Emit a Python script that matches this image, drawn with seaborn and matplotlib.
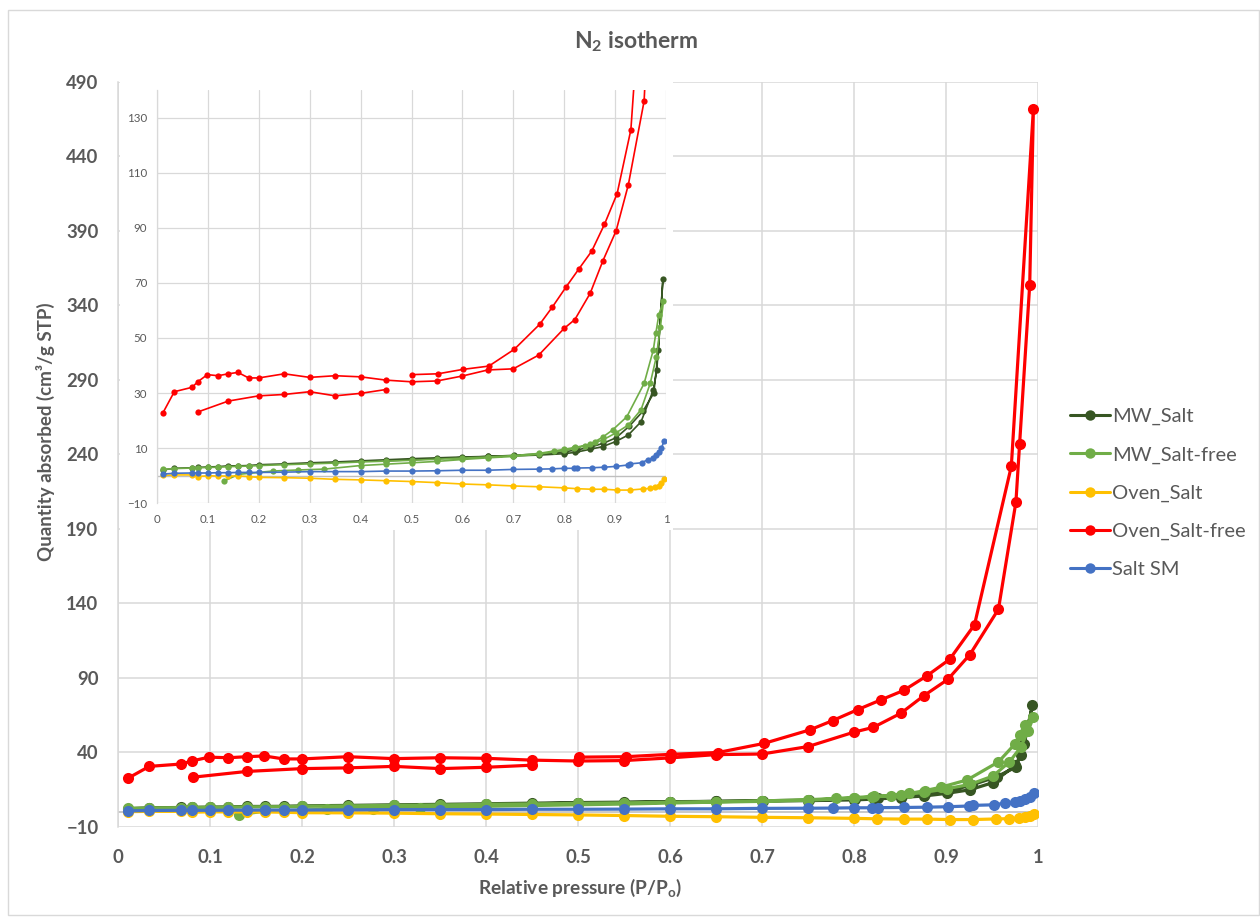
import numpy as np
import pandas as pd
import matplotlib
matplotlib.use("Agg")
import matplotlib.pyplot as plt
from matplotlib.lines import Line2D
from matplotlib.patches import Rectangle
from matplotlib.ticker import FuncFormatter
import seaborn as sns

# ---------------- data ----------------
samples = ["MW_Salt", "MW_Salt-free", "Oven_Salt", "Oven_Salt-free", "Salt SM"]
colors = ["#375623", "#70AD47", "#FFC000", "#FF0000", "#4472C4"]

mw_salt_ads_p = [0.011, 0.034, 0.069, 0.080, 0.100, 0.120, 0.140, 0.160, 0.180, 0.200, 0.250,
                 0.300, 0.350, 0.400, 0.450, 0.500, 0.550, 0.600, 0.650, 0.700, 0.750, 0.800,
                 0.822, 0.851, 0.876, 0.901, 0.926, 0.951, 0.975, 0.982, 0.994]
mw_salt_ads_q = [2.1, 2.7, 2.9, 3.0, 3.2, 3.3, 3.6, 3.6, 3.7, 4.0, 4.3, 4.7, 5.0, 5.4, 5.8, 6.2,
                 6.5, 6.8, 7.0, 7.2, 7.5, 8.0, 8.5, 9.6, 10.6, 12.4, 14.8, 19.6, 31.1, 38.4, 71.4]
mw_salt_des_p = [0.985, 0.976, 0.955, 0.928, 0.902, 0.877, 0.852, 0.826, 0.801, 0.751, 0.701,
                 0.650, 0.600, 0.550, 0.500, 0.450]
mw_salt_des_q = [45.6, 30.0, 23.5, 18.0, 13.8, 11.8, 10.4, 9.4, 8.7, 7.9, 7.4, 7.0, 6.6, 6.2,
                 5.8, 5.4]

mw_free_ads_p = [0.011, 0.034, 0.069, 0.080, 0.100, 0.120, 0.140, 0.160, 0.180, 0.200, 0.250,
                 0.300, 0.350, 0.400, 0.450, 0.500, 0.550, 0.600, 0.650, 0.700, 0.750, 0.780,
                 0.800, 0.822, 0.851, 0.876, 0.901, 0.926, 0.951, 0.969, 0.981, 0.989, 0.995]
mw_free_ads_q = [2.3, 2.6, 2.8, 2.9, 3.0, 3.1, 3.3, 3.4, 3.5, 3.7, 4.0, 4.3, 4.6, 5.0, 5.3, 5.6,
                 6.0, 6.4, 6.8, 7.3, 8.1, 9.0, 9.6, 10.3, 11.4, 13.0, 15.5, 18.4, 24.0, 33.5,
                 43.2, 54.0, 63.4]
mw_free_des_p = [0.986, 0.980, 0.975, 0.957, 0.923, 0.895, 0.877, 0.860, 0.840, 0.820, 0.800,
                 0.750, 0.700, 0.650, 0.600, 0.550, 0.500, 0.450, 0.400, 0.328, 0.277, 0.227,
                 0.160, 0.132]
mw_free_des_q = [58.5, 51.7, 45.6, 33.5, 21.4, 16.6, 14.2, 12.3, 10.8, 9.9, 9.2, 7.8, 7.0, 6.5,
                 5.9, 5.2, 4.7, 4.2, 3.7, 2.4, 2.1, 1.7, 0.5, -1.9]

oven_salt_p = [0.011, 0.034, 0.069, 0.080, 0.100, 0.120, 0.140, 0.160, 0.180, 0.200, 0.250,
               0.300, 0.350, 0.400, 0.450, 0.500, 0.550, 0.600, 0.650, 0.700, 0.750, 0.800,
               0.825, 0.854, 0.879, 0.904, 0.929, 0.954, 0.969, 0.979, 0.986, 0.991, 0.996]
oven_salt_q = [0.1, 0.3, 0.3, -0.3, 0.0, -0.1, -0.1, -0.1, -0.3, -0.6, -0.7, -0.9, -1.3, -1.5,
               -1.8, -2.1, -2.5, -3.0, -3.3, -3.7, -4.0, -4.4, -4.7, -4.9, -4.9, -5.2, -5.2,
               -4.8, -4.6, -4.2, -3.7, -2.7, -1.3]

oven_free_ads_p = [0.011, 0.034, 0.069, 0.080, 0.099, 0.120, 0.140, 0.159, 0.180, 0.200, 0.250,
                   0.300, 0.350, 0.400, 0.450, 0.500, 0.550, 0.600, 0.650, 0.700, 0.750, 0.800,
                   0.821, 0.851, 0.876, 0.902, 0.926, 0.957, 0.976, 0.980, 0.991, 0.995]
oven_free_ads_q = [22.6, 30.5, 32.1, 34.1, 36.7, 36.3, 37.0, 37.5, 35.5, 35.5, 37.0, 35.7, 36.3,
                   35.9, 34.7, 34.1, 34.4, 36.2, 38.4, 38.8, 43.8, 53.5, 56.7, 66.2, 78.0, 88.9,
                   105.6, 136.0, 208.0, 247.0, 354.0, 472.0]
oven_free_des1_p = [0.971, 0.931, 0.904, 0.879, 0.854, 0.829, 0.804, 0.777, 0.752, 0.702, 0.652,
                    0.601, 0.552, 0.501]
oven_free_des1_q = [232.0, 125.6, 102.4, 91.2, 81.5, 75.1, 68.6, 61.3, 55.0, 45.9, 39.8, 38.6,
                    37.0, 36.7]
oven_free_des2_p = [0.450, 0.400, 0.350, 0.300, 0.250, 0.200, 0.140, 0.081]
oven_free_des2_q = [31.3, 29.9, 29.0, 30.5, 29.5, 29.0, 27.1, 23.2]

salt_sm_p = [0.011, 0.034, 0.069, 0.080, 0.100, 0.120, 0.140, 0.160, 0.180, 0.200, 0.250, 0.300,
             0.350, 0.400, 0.450, 0.500, 0.550, 0.600, 0.650, 0.700, 0.750, 0.777, 0.800, 0.820,
             0.826, 0.854, 0.879, 0.902, 0.925, 0.929, 0.952, 0.964, 0.975, 0.980, 0.986, 0.991,
             0.996]
salt_sm_q = [0.6, 0.9, 1.0, 1.0, 1.0, 1.1, 1.1, 1.2, 1.2, 1.2, 1.3, 1.5, 1.5, 1.5, 1.7, 1.7, 1.8,
             2.0, 2.0, 2.3, 2.4, 2.5, 2.7, 2.7, 2.8, 2.9, 3.1, 3.4, 3.9, 4.3, 4.7, 5.8, 6.6, 7.5,
             8.6, 9.9, 12.7]

main_yticks = list(range(-10, 491, 50))
inset_yticks = list(range(-10, 131, 20))
xticks = [0, 0.1, 0.2, 0.3, 0.4, 0.5, 0.6, 0.7, 0.8, 0.9, 1.0]

# each sample: list of continuous segments (Excel draws adsorption then desorption)
series = {
    "MW_Salt": [(mw_salt_ads_p + mw_salt_des_p, mw_salt_ads_q + mw_salt_des_q)],
    "MW_Salt-free": [(mw_free_ads_p + mw_free_des_p, mw_free_ads_q + mw_free_des_q)],
    "Oven_Salt": [(oven_salt_p, oven_salt_q)],
    "Oven_Salt-free": [(oven_free_ads_p + oven_free_des1_p, oven_free_ads_q + oven_free_des1_q),
                       (oven_free_des2_p, oven_free_des2_q)],
    "Salt SM": [(salt_sm_p, salt_sm_q)],
}

# ---------------- style ----------------
sns.set_style("white")
plt.rcParams["font.family"] = ["Lato", "DejaVu Sans"]
plt.rcParams["mathtext.fontset"] = "custom"
plt.rcParams["mathtext.rm"] = "Lato:bold"
plt.rcParams["mathtext.it"] = "Lato:bold"
plt.rcParams["mathtext.bf"] = "Lato:bold"
GREY = "#595959"
GRID = "#D9D9D9"

W, H = 1260, 918
fig = plt.figure(figsize=(W / 100, H / 100), dpi=100)
fig.patch.set_facecolor("white")


def fx(px):
    return px / W


def fy(py):
    return 1 - py / H


def draw(ax, ms, lw):
    for name, color in zip(samples, colors):
        frames = []
        for k, (p, q) in enumerate(series[name]):
            frames.append(pd.DataFrame({"P": p, "Q": q, "seg": k}))
        df = pd.concat(frames, ignore_index=True)
        sns.lineplot(data=df, x="P", y="Q", units="seg", estimator=None, sort=False,
                     color=color, marker="o", markersize=ms, markeredgewidth=0,
                     linewidth=lw, ax=ax, legend=False)


fmt = FuncFormatter(lambda v, pos: f"{v:g}")

# ---------------- main axes ----------------
ax = fig.add_axes([fx(118), fy(826.7), fx(1038) - fx(118), fy(82) - fy(826.7)])
ax.set_zorder(0)
draw(ax, 8.0, 2.3)
ax.set_xlim(0, 1)
ax.set_ylim(-10, 490)
ax.set_xticks(xticks)
ax.set_yticks(main_yticks)
ax.xaxis.set_major_formatter(fmt)
ax.grid(True, color=GRID, linewidth=1.1)
ax.set_axisbelow(True)
ax.axhline(0, color="#BFBFBF", linewidth=1.2, zorder=1.5)
for s in ["top", "right", "bottom"]:
    ax.spines[s].set_visible(False)
ax.spines["left"].set_color(GRID)
ax.spines["left"].set_linewidth(1.1)
ax.tick_params(axis="y", length=0, pad=14, labelsize=13.3, labelcolor=GREY)
ax.tick_params(axis="x", length=0, pad=16, labelsize=13.3, labelcolor=GREY)
for lab in ax.get_xticklabels() + ax.get_yticklabels():
    lab.set_fontweight("bold")
ax.set_xlabel("")
ax.set_ylabel("")

# white area behind the inset
fig.patches.append(Rectangle((fx(120), fy(530)), fx(673) - fx(120), fy(76) - fy(530),
                             transform=fig.transFigure, facecolor="white", edgecolor="none",
                             zorder=0.5))

# ---------------- inset axes ----------------
ins = fig.add_axes([fx(157), fy(503.3), fx(666) - fx(157), fy(90) - fy(503.3)])
ins.set_zorder(1)
ins.set_facecolor("white")
draw(ins, 4.5, 1.2)
ins.set_xlim(0, 1)
ins.set_ylim(-10, 140)
ins.set_xticks(xticks)
ins.set_yticks(inset_yticks)
ins.xaxis.set_major_formatter(fmt)
ins.grid(True, color=GRID, linewidth=0.9)
ins.set_axisbelow(True)
ins.axhline(0, color="#BFBFBF", linewidth=1.0, zorder=1.5)
for s in ["top", "right", "bottom"]:
    ins.spines[s].set_visible(False)
ins.spines["left"].set_color(GRID)
ins.spines["left"].set_linewidth(0.9)
ins.tick_params(axis="y", length=0, pad=7, labelsize=8.3, labelcolor=GREY)
ins.tick_params(axis="x", length=0, pad=8, labelsize=8.3, labelcolor=GREY)
ins.set_xlabel("")
ins.set_ylabel("")

# ---------------- texts ----------------
fig.text(fx(636), fy(42), r"N$_2$ isotherm", ha="center", va="center", fontsize=16.5,
         fontweight="bold", color=GREY)
fig.text(fx(580), fy(888), r"Relative pressure (P/P$_\mathrm{o}$)", ha="center", va="center",
         fontsize=13.8, fontweight="bold", color=GREY)
fig.text(fx(45), fy(432), "Quantity absorbed (cm³/g STP)", ha="center", va="center",
         rotation=90, fontsize=13.5, fontweight="bold", color=GREY)

# ---------------- legend ----------------
handles = [Line2D([0], [0], color=c, marker="o", markersize=7.5, linewidth=2.2,
                  markeredgewidth=0) for c in colors]
leg = fig.legend(handles, samples, loc="upper left", bbox_to_anchor=(fx(1070), fy(408)),
                 frameon=False, fontsize=14.5, handlelength=2.0, handletextpad=0.1,
                 labelspacing=1.04, borderaxespad=0, borderpad=0)
for t in leg.get_texts():
    t.set_color(GREY)

# outer chart border
fig.patches.append(Rectangle((fx(8), fy(915)), fx(1259) - fx(8), fy(10) - fy(915),
                             transform=fig.transFigure, facecolor="none", edgecolor=GRID,
                             linewidth=1.0, zorder=0.1))

fig.savefig("out.png", dpi=100)
